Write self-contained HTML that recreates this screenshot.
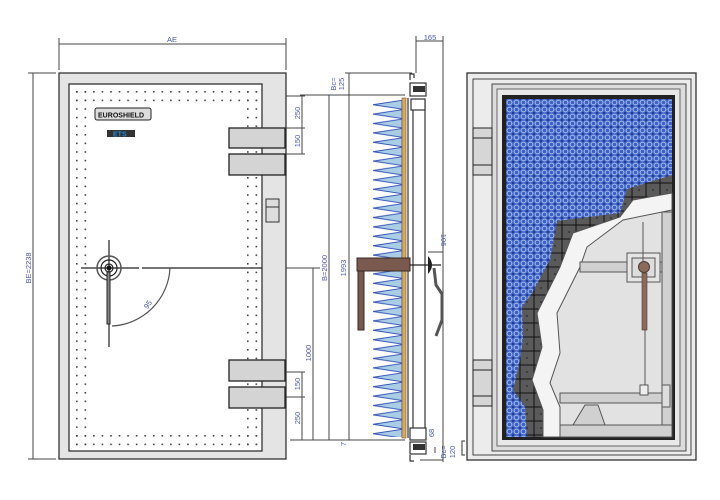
<!DOCTYPE html>
<html><head><meta charset="utf-8"><style>
html,body{margin:0;padding:0;background:#fff;}
svg{display:block;font-family:"Liberation Sans",sans-serif;}
.d{fill:#4a58b0;font-size:7.5px;}
</style></head><body>
<svg width="720" height="500" viewBox="0 0 720 500" xmlns="http://www.w3.org/2000/svg">
<defs>
<pattern id="dots" x="76" y="91" width="8.55" height="8.6" patternUnits="userSpaceOnUse">
<rect x="0" y="0" width="1.6" height="1.6" fill="#444"/></pattern>
<pattern id="spk" x="373" y="100" width="30" height="9.4" patternUnits="userSpaceOnUse">
<polygon points="29,0.3 0,4.7 29,9.1" fill="#a9cde4" stroke="#2f4fb8" stroke-width="0.9"/></pattern>
<pattern id="blue" x="506" y="99" width="7" height="7" patternUnits="userSpaceOnUse">
<rect width="7" height="7" fill="#3d62c6"/>
<circle cx="3.5" cy="3.5" r="2.4" fill="none" stroke="#a9bde8" stroke-width="1"/>
<circle cx="0" cy="0" r="1" fill="#1b2f8a"/><circle cx="7" cy="0" r="1" fill="#1b2f8a"/><circle cx="0" cy="7" r="1" fill="#1b2f8a"/><circle cx="7" cy="7" r="1" fill="#1b2f8a"/></pattern>
<pattern id="tile" x="506" y="99" width="14" height="14" patternUnits="userSpaceOnUse">
<rect width="14" height="14" fill="#5a5a5a" stroke="#111" stroke-width="1"/><circle cx="7" cy="7" r="0.7" fill="#111"/></pattern>
</defs>

<g stroke="#444" stroke-width="1" fill="none">
<line x1="59" y1="38" x2="59" y2="70"/><line x1="286" y1="38" x2="286" y2="70"/>
<line x1="59" y1="44" x2="286" y2="44"/>
<line x1="28" y1="73" x2="56" y2="73"/><line x1="28" y1="459" x2="56" y2="459"/>
<line x1="33" y1="73" x2="33" y2="459"/>
<line x1="286" y1="96" x2="305" y2="96"/><line x1="302" y1="96" x2="302" y2="154"/>
<line x1="286" y1="128" x2="305" y2="128"/><line x1="286" y1="154" x2="305" y2="154"/>
<line x1="286" y1="268" x2="320" y2="268"/><line x1="313" y1="268" x2="313" y2="440"/>
<line x1="286" y1="372" x2="305" y2="372"/><line x1="302" y1="372" x2="302" y2="440"/>
<line x1="286" y1="397" x2="305" y2="397"/><line x1="290" y1="440" x2="320" y2="440"/>
</g>
<text class="d" x="172" y="42" text-anchor="middle">AE</text>
<text class="d" transform="translate(31,268) rotate(-90)" text-anchor="middle">BE=2238</text>
<text class="d" transform="translate(300,113) rotate(-90)" text-anchor="middle">250</text>
<text class="d" transform="translate(300,141) rotate(-90)" text-anchor="middle">150</text>
<text class="d" transform="translate(311,353) rotate(-90)" text-anchor="middle">1000</text>
<text class="d" transform="translate(300,384) rotate(-90)" text-anchor="middle">150</text>
<text class="d" transform="translate(300,418) rotate(-90)" text-anchor="middle">250</text>

<rect x="59" y="73" width="227" height="386" fill="#e4e4e4" stroke="#333" stroke-width="1.3"/>
<rect x="69" y="84" width="193" height="367" fill="#fff" stroke="#333" stroke-width="1.3"/>
<rect x="73" y="89" width="187" height="15" fill="url(#dots)"/>
<rect x="73" y="431" width="187" height="15" fill="url(#dots)"/>
<rect x="73" y="89" width="16" height="357" fill="url(#dots)"/>
<rect x="244" y="89" width="16" height="357" fill="url(#dots)"/>
<rect x="95" y="108" width="56" height="12" rx="2" fill="#ddd" stroke="#222" stroke-width="1"/>
<text x="98" y="117.5" font-size="7" fill="#111" font-weight="bold" textLength="46">EUROSHIELD</text>
<rect x="107" y="130" width="28" height="7" fill="#333"/>
<text x="113" y="136.5" font-size="7" fill="#2a8ad0" font-weight="bold">ETS</text>
<g fill="#d4d4d4" stroke="#222" stroke-width="1.3">
<rect x="229" y="128" width="56" height="20"/><rect x="229" y="154" width="56" height="21"/>
<rect x="229" y="360" width="56" height="21"/><rect x="229" y="387" width="56" height="21"/>
</g>
<rect x="266" y="199" width="13" height="23" fill="#ddd" stroke="#333"/>
<line x1="266" y1="207" x2="279" y2="207" stroke="#333"/>
<g stroke="#222" fill="none">
<line x1="81" y1="268" x2="139" y2="268" stroke-width="1.2"/>
<line x1="142" y1="268" x2="262" y2="268" stroke-width="1.2"/>
<line x1="109" y1="240" x2="109" y2="347" stroke-width="1.2"/>
<circle cx="109" cy="268" r="12" stroke-width="1.5" stroke="#555"/>
<circle cx="109" cy="268" r="8" stroke-width="1.2"/>
<circle cx="109" cy="268" r="4" stroke-width="1.2"/>
<rect x="107" y="272" width="3" height="52" fill="#888"/>
<path d="M170,268 A61,61 0 0 1 112,326" stroke="#555" stroke-width="1.2"/>
</g>
<circle cx="109" cy="268" r="2.5" fill="#111"/>
<text class="d" transform="translate(150,306) rotate(-55)" text-anchor="middle">95</text>

<g stroke="#444" stroke-width="1" fill="none">
<line x1="416" y1="36" x2="416" y2="73"/><line x1="443" y1="36" x2="443" y2="462"/>
<line x1="416" y1="41" x2="443" y2="41"/>
<line x1="345" y1="73" x2="412" y2="73"/><line x1="349" y1="73" x2="349" y2="95"/>
<line x1="300" y1="95" x2="405" y2="95"/>
<line x1="329" y1="95" x2="329" y2="440"/><line x1="349" y1="95" x2="349" y2="440"/>
<line x1="300" y1="440" x2="405" y2="440"/>
<line x1="428" y1="252" x2="443" y2="252"/>
<line x1="420" y1="460" x2="443" y2="460"/>
<line x1="435" y1="447" x2="435" y2="453"/>
</g>
<text class="d" x="430" y="40" text-anchor="middle">165</text>
<text class="d" transform="translate(336,84) rotate(-90)" text-anchor="middle">Bc=</text>
<text class="d" transform="translate(344,84) rotate(-90)" text-anchor="middle">125</text>
<text class="d" transform="translate(327,268) rotate(-90)" text-anchor="middle">B=2000</text>
<text class="d" transform="translate(346,268) rotate(-90)" text-anchor="middle">1993</text>
<text class="d" transform="translate(441,240) rotate(90)" text-anchor="middle">106</text>
<text class="d" transform="translate(434,433) rotate(-90)" text-anchor="middle">68</text>
<text class="d" transform="translate(446,452) rotate(-90)" text-anchor="middle">Bc=</text>
<text class="d" transform="translate(455,452) rotate(-90)" text-anchor="middle">120</text>
<text class="d" transform="translate(346,444) rotate(-90)" text-anchor="middle">7</text>

<rect x="373" y="100" width="29" height="337" fill="url(#spk)"/>
<rect x="402" y="98" width="4" height="340" fill="#d9a860" stroke="#7a5a30" stroke-width="0.6"/>
<g stroke="#333" stroke-width="1.2" fill="none">
<line x1="413" y1="100" x2="413" y2="437"/><line x1="425" y1="100" x2="425" y2="437"/>
<line x1="408" y1="98" x2="408" y2="438"/>
<rect x="410" y="83" width="16" height="13" fill="#fff"/>
<rect x="411" y="99" width="14" height="11" fill="#fff"/>
<path d="M410,80 v-6 h4 v4"/>
<rect x="410" y="428" width="16" height="12" fill="#fff"/>
<rect x="410" y="442" width="16" height="12" fill="#fff"/>
<path d="M410,455 v6 h4"/>
</g>
<rect x="413" y="86" width="12" height="6" fill="#333"/>
<rect x="413" y="444" width="12" height="6" fill="#333"/>
<rect x="357" y="258" width="53" height="13" fill="#7a5a4e" stroke="#3a2a22"/>
<rect x="358" y="271" width="6" height="59" fill="#7a5a4e" stroke="#3a2a22"/>
<line x1="410" y1="265" x2="441" y2="265" stroke="#222" stroke-width="1.2"/>
<path d="M428,256 Q436,265 428,274 Z" fill="#222"/>
<polyline points="434,268 436,285 442,294 442,320 436,336" fill="none" stroke="#555" stroke-width="3"/>

<rect x="467" y="73" width="229" height="387" fill="#ececec" stroke="#333" stroke-width="1.3"/>
<rect x="473" y="79" width="218" height="376" fill="none" stroke="#444"/>
<rect x="492" y="84" width="194" height="367" fill="#dcdcdc" stroke="#444"/>
<rect x="497" y="89" width="183" height="357" fill="#e8e8e8" stroke="#666"/>
<rect x="502" y="95" width="173" height="345" fill="#222"/>
<rect x="506" y="99" width="166" height="338" fill="url(#blue)"/>
<g fill="#d6d6d6" stroke="#222">
<rect x="473" y="128" width="19" height="10"/><rect x="473" y="138" width="19" height="27"/><rect x="473" y="165" width="19" height="10"/>
<rect x="473" y="360" width="19" height="10"/><rect x="473" y="370" width="19" height="26"/><rect x="473" y="396" width="19" height="10"/>
</g>
<path d="M465,441 h-3 v14 h3" fill="none" stroke="#333"/>
<polygon points="672,175 627,189 620,213 557,221 550,260 532,293 522,307 523,337 520,360 513,390 525,407 527,437 672,437" fill="url(#tile)"/>
<polygon points="672,193 633,200 620,217 573,233 560,267 537,313 542,347 532,380 543,410 543,437 672,437" fill="#f4f4f4" stroke="#555"/>
<polygon points="672,210 623,220 587,247 580,267 557,313 560,353 550,383 560,407 560,437 672,437" fill="#e2e2e2" stroke="#555"/>
<g stroke="#555" fill="#d0d0d0">
<rect x="580" y="262" width="82" height="10"/>
<rect x="662" y="212" width="10" height="225"/>
<rect x="560" y="393" width="105" height="10"/>
<rect x="560" y="425" width="112" height="12"/>
<polygon points="573,425 605,425 598,405 585,405"/>
<rect x="627" y="253" width="33" height="29" fill="#e6e6e6"/>
<rect x="632" y="258" width="23" height="19" fill="#ddd"/>
<line x1="643" y1="222" x2="643" y2="262"/>
<line x1="645" y1="330" x2="645" y2="386"/>
<rect x="640" y="385" width="8" height="10" fill="#eee"/>
<rect x="662" y="385" width="8" height="22" fill="#ddd"/>
</g>
<rect x="642" y="273" width="5" height="57" fill="#8a6a5a" stroke="#4a3a32" stroke-width="0.6"/>
<circle cx="644" cy="267" r="5.5" fill="#8a6a5a" stroke="#4a3a32"/>
</svg>
</body></html>
